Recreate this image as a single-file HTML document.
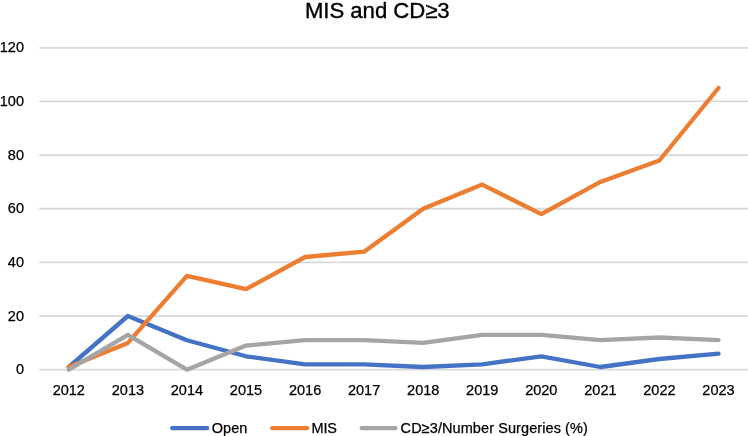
<!DOCTYPE html>
<html><head><meta charset="utf-8"><title>MIS and CD≥3</title>
<style>
html,body{margin:0;padding:0;background:#fff;}
svg{display:block;font-family:"Liberation Sans",sans-serif;}
.g line{stroke:#D9D9D9;stroke-width:1.8;}
.s{fill:none;stroke-width:4.3;stroke-linecap:round;stroke-linejoin:round;}
.t{font-size:14.5px;fill:#000;stroke:#000;stroke-width:0.25;}
</style></head><body>
<svg width="748" height="436" viewBox="0 0 748 436">
<rect width="748" height="436" fill="#fff"/>
<text x="304.9" y="17.7" font-size="22.2" fill="#000" stroke="#000" stroke-width="0.35" textLength="144.8" lengthAdjust="spacing">MIS and CD≥3</text>
<g class="g"><line x1="39.3" x2="748" y1="369.70" y2="369.70"/><line x1="39.3" x2="748" y1="316.05" y2="316.05"/><line x1="39.3" x2="748" y1="262.40" y2="262.40"/><line x1="39.3" x2="748" y1="208.75" y2="208.75"/><line x1="39.3" x2="748" y1="155.10" y2="155.10"/><line x1="39.3" x2="748" y1="101.45" y2="101.45"/><line x1="39.3" x2="748" y1="47.80" y2="47.80"/></g>
<g class="t"><text x="24" y="374.2" text-anchor="end">0</text><text x="24" y="320.5" text-anchor="end">20</text><text x="24" y="266.9" text-anchor="end">40</text><text x="24" y="213.2" text-anchor="end">60</text><text x="24" y="159.6" text-anchor="end">80</text><text x="24" y="105.9" text-anchor="end">100</text><text x="24" y="52.3" text-anchor="end">120</text></g>
<g class="t"><text x="68.8" y="395.4" text-anchor="middle">2012</text><text x="127.9" y="395.4" text-anchor="middle">2013</text><text x="186.9" y="395.4" text-anchor="middle">2014</text><text x="246.0" y="395.4" text-anchor="middle">2015</text><text x="305.1" y="395.4" text-anchor="middle">2016</text><text x="364.1" y="395.4" text-anchor="middle">2017</text><text x="423.2" y="395.4" text-anchor="middle">2018</text><text x="482.2" y="395.4" text-anchor="middle">2019</text><text x="541.3" y="395.4" text-anchor="middle">2020</text><text x="600.4" y="395.4" text-anchor="middle">2021</text><text x="659.4" y="395.4" text-anchor="middle">2022</text><text x="718.5" y="395.4" text-anchor="middle">2023</text></g>
<polyline class="s" stroke="#4472C4" points="68.8,367.0 127.9,316.0 186.9,340.2 246.0,356.3 305.1,364.3 364.1,364.3 423.2,367.0 482.2,364.3 541.3,356.3 600.4,367.0 659.4,359.0 718.5,353.6"/>
<polyline class="s" stroke="#ED7D31" points="68.8,367.0 127.9,342.9 186.9,275.8 246.0,289.2 305.1,257.0 364.1,251.7 423.2,208.7 482.2,184.6 541.3,214.1 600.4,181.9 659.4,160.5 718.5,88.0"/>
<polyline class="s" stroke="#A5A5A5" points="68.8,369.7 127.9,334.8 186.9,369.7 246.0,345.6 305.1,340.2 364.1,340.2 423.2,342.9 482.2,334.8 541.3,334.8 600.4,340.2 659.4,337.5 718.5,340.2"/>
<g class="s">
<line x1="172.3" x2="207.1" y1="428.2" y2="428.2" stroke="#4472C4"/>
<line x1="272.3" x2="307.1" y1="428.2" y2="428.2" stroke="#ED7D31"/>
<line x1="361.8" x2="395.4" y1="428.2" y2="428.2" stroke="#A5A5A5"/>
</g>
<g class="t">
<text x="211.8" y="432.6">Open</text>
<text x="311.6" y="432.6" textLength="25.2" lengthAdjust="spacing">MIS</text>
<text x="400.6" y="432.6" textLength="187.2" lengthAdjust="spacing">CD≥3/Number Surgeries (%)</text>
</g>
</svg>
</body></html>
